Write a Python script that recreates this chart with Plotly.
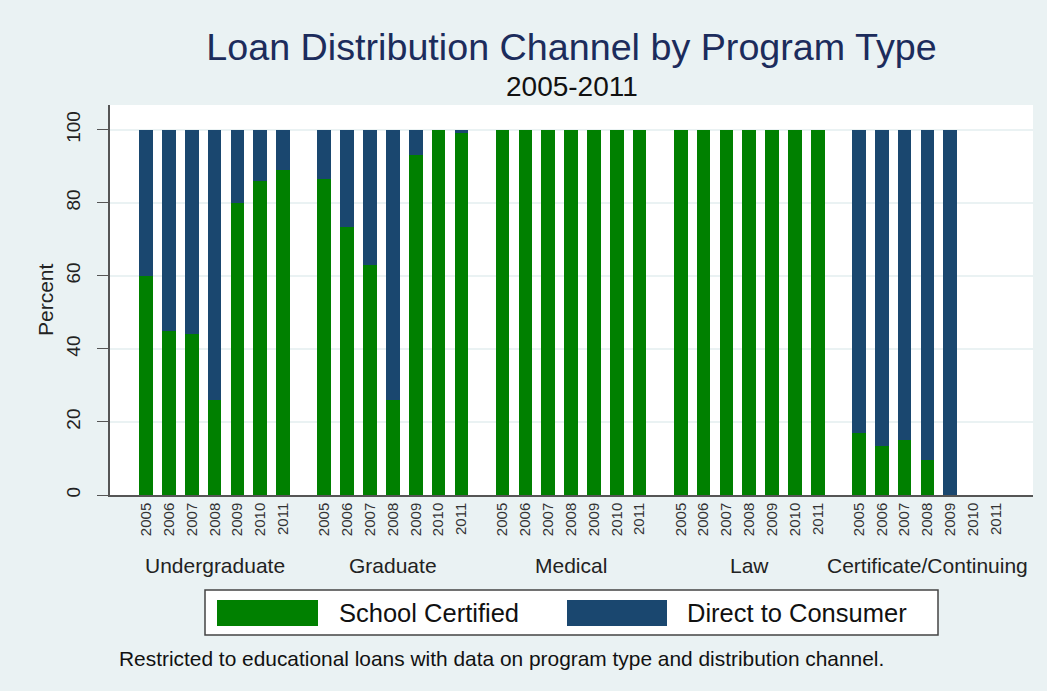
import plotly.graph_objects as go

# ---- data ----
years = ["2005", "2006", "2007", "2008", "2009", "2010", "2011"]
programs = ["Undergraduate", "Graduate", "Medical", "Law", "Certificate/Continuing"]
series_names = ["School Certified", "Direct to Consumer"]

undergrad_school = [60, 45, 44, 26, 80, 86, 89]
undergrad_direct = [40, 55, 56, 74, 20, 14, 11]
graduate_school = [86.5, 73.5, 63, 26, 93, 100, 99]
graduate_direct = [13.5, 26.5, 37, 74, 7, 0, 1]
medical_school = [100, 100, 100, 100, 100, 100, 100]
medical_direct = [0, 0, 0, 0, 0, 0, 0]
law_school = [100, 100, 100, 100, 100, 100, 100]
law_direct = [0, 0, 0, 0, 0, 0, 0]
cert_school = [17, 13.5, 15, 9.5, 0, None, None]
cert_direct = [83, 86.5, 85, 90.5, 100, None, None]

school_by_program = [undergrad_school, graduate_school, medical_school, law_school, cert_school]
direct_by_program = [undergrad_direct, graduate_direct, medical_direct, law_direct, cert_direct]

y_ticks = [0, 20, 40, 60, 80, 100]

GREEN = "#008000"
NAVY = "#1a476f"
BG = "#eaf2f3"
FONT = "Liberation Sans, Arial, sans-serif"

# layout of the plot area in pixels (1047 x 691 page)
W, H = 1047, 691
L, R, T, B = 110, 1033, 105, 495
GROUP_STRIDE = 7.8  # 7 bars plus a gap between program groups


def px_x(p):
    return (p - L) / (R - L)


def px_y(p):
    return (B - p) / (B - T)


# bar positions
xs, school_vals, direct_vals, tick_text = [], [], [], []
for g, prog in enumerate(programs):
    for j, yr in enumerate(years):
        xs.append(g * GROUP_STRIDE + j)
        school_vals.append(school_by_program[g][j])
        direct_vals.append(direct_by_program[g][j])
        tick_text.append(yr)

fig = go.Figure()
fig.add_trace(go.Bar(x=xs, y=school_vals, name=series_names[0],
                     marker=dict(color=GREEN, line=dict(width=0)), width=0.6))
fig.add_trace(go.Bar(x=xs, y=direct_vals, name=series_names[1],
                     marker=dict(color=NAVY, line=dict(width=0)), width=0.6))

last_x = (len(programs) - 1) * GROUP_STRIDE + len(years) - 1

fig.update_layout(
    barmode="stack",
    width=W, height=H,
    margin=dict(l=L, r=W - R, t=T, b=H - B),
    paper_bgcolor=BG,
    plot_bgcolor="white",
    showlegend=False,
    font=dict(family=FONT, color="#222"),
    title=dict(text="Loan Distribution Channel by Program Type",
               x=(L + R) / 2 / W, xanchor="center",
               y=1 - 47 / H, yanchor="middle",
               font=dict(size=37.7, color="#1c2c5c", family=FONT)),
)

fig.update_xaxes(
    range=[-1.58, last_x + 1.62],
    tickmode="array", tickvals=xs, ticktext=tick_text,
    tickangle=-90, tickfont=dict(size=15, color="#333"),
    showgrid=False, zeroline=False,
    showline=True, linecolor="#555", linewidth=1.5,
    ticks="",
)
fig.update_yaxes(
    range=[0, 106.8],
    tickmode="array", tickvals=y_ticks,
    tickangle=-90, tickfont=dict(size=19, color="#222"),
    ticklabelstandoff=10,
    showgrid=True, gridcolor=BG, gridwidth=1.5,
    zeroline=False,
    showline=True, linecolor="#555", linewidth=1.5,
    ticks="outside", ticklen=11, tickcolor="#555",
)

# subtitle
fig.add_annotation(text="2005-2011", xref="paper", yref="paper",
                   x=0.5, y=px_y(87), xanchor="center", yanchor="middle",
                   showarrow=False, font=dict(size=28, color="#111"))

# y axis title
fig.add_annotation(text="Percent", xref="paper", yref="paper",
                   x=px_x(45), y=px_y(300), xanchor="center", yanchor="middle",
                   textangle=-90, showarrow=False, font=dict(size=21, color="#222"))

# program group labels
for g, prog in enumerate(programs):
    fig.add_annotation(text=prog, xref="x", yref="paper",
                       x=g * GROUP_STRIDE + 3, y=px_y(565),
                       xanchor="center", yanchor="middle",
                       showarrow=False, font=dict(size=21, color="#222"))

# legend box drawn by hand (large Stata-style swatches)
fig.add_shape(type="rect", xref="paper", yref="paper",
              x0=px_x(205), x1=px_x(938), y0=px_y(590), y1=px_y(635),
              fillcolor="white", line=dict(color="#444", width=1.5))
swatches = [(217, 318, GREEN, 337), (567, 667, NAVY, 685)]
for (sx0, sx1, col, tx), name in zip(swatches, series_names):
    fig.add_shape(type="rect", xref="paper", yref="paper",
                  x0=px_x(sx0), x1=px_x(sx1), y0=px_y(600), y1=px_y(626),
                  fillcolor=col, line=dict(color=col, width=0))
    fig.add_annotation(text=name, xref="paper", yref="paper",
                       x=px_x(tx), y=px_y(613), xanchor="left", yanchor="middle",
                       showarrow=False, font=dict(size=25.5, color="#111"))

# note
fig.add_annotation(text="Restricted to educational loans with data on program type and distribution channel.",
                   xref="paper", yref="paper", x=px_x(117), y=px_y(658),
                   xanchor="left", yanchor="middle",
                   showarrow=False, font=dict(size=20.9, color="#111"))

fig.write_html("out.html", config={"displayModeBar": False},
               post_script="document.body.style.margin='0';")
